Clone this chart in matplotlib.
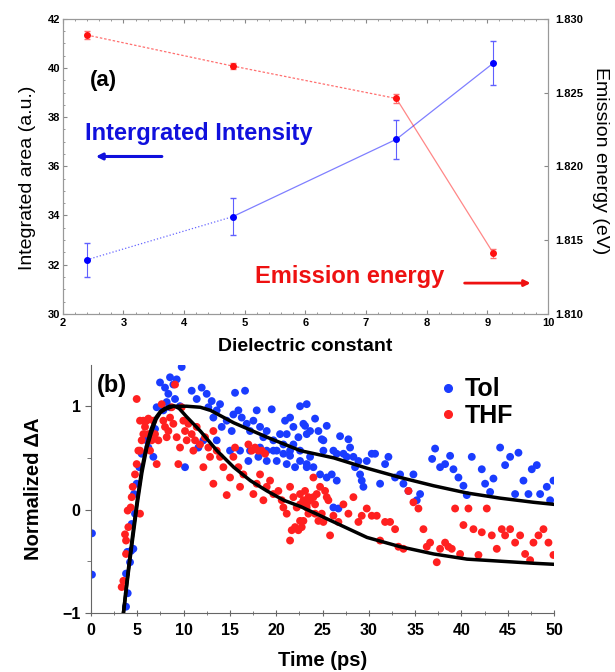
import matplotlib.pyplot as plt
from matplotlib.lines import Line2D

plt.rcParams['font.family'] = ['Liberation Sans', 'DejaVu Sans']

# (a) integrated area and emission energy vs dielectric constant
dielectric = [2.4, 4.8, 7.5, 9.1]
area = [32.2, 33.95, 37.1, 40.2]
area_err = [0.7, 0.75, 0.8, 0.9]
energy = [1.8289, 1.8268, 1.8246, 1.8141]
energy_err = [0.0003, 0.0002, 0.0003, 0.0003]

# (b) normalized transient absorption, toluene
tol_t = [0.1, 0.1, 3.78, 3.96, 3.78, 4.21, 4.32, 3.92, 4.57, 4.39, 4.75, 4.64, 4.93, 5.22, 5.47,
         6.01, 6.19, 6.73, 6.91, 7.09, 7.45, 7.99, 8.35, 8.53, 8.89, 9.25, 9.79, 8.17, 8.53, 7.81,
         9.07, 9.61, 10.15, 10.87, 11.41, 11.95, 12.49, 13.03, 12.67, 13.21, 13.57, 13.93, 14.11,
         14.65, 15.19, 15.37, 15.55, 15.91, 16.27, 16.63, 16.81, 17.17, 17.53, 17.89, 18.25, 18.61,
         18.97, 19.51, 19.69, 20.41, 20.95, 21.49, 21.85, 22.39, 22.93, 23.29, 23.65, 19.69, 20.77,
         21.49, 22.57, 21.85, 21.13, 12.13, 11.59, 13.57, 15.01, 16.09, 16.99, 18.07, 18.97, 20.05,
         21.13, 22.03, 17.17, 18.25, 18.97, 20.05, 20.77, 21.49, 22.57, 23.29, 23.65,
         22.57, 23.11, 23.29, 24.19, 24.55, 24.91, 25.45, 25.09, 26.17, 26.53, 26.89, 27.25, 27.79,
         27.97, 28.33, 28.51, 28.87, 29.05, 29.23, 29.41, 29.77, 30.31, 30.67, 31.21, 31.75, 32.11,
         32.83, 33.37, 33.73, 34.27, 34.81, 35.17, 35.53, 36.83, 37.15, 37.69, 38.23, 38.77, 39.13,
         39.67, 40.21, 40.57, 41.11, 42.19, 42.55, 43.09, 43.45, 44.17, 44.71, 45.25, 45.79, 46.15,
         46.69, 47.23, 47.59, 48.13, 48.49, 49.21, 49.57, 49.93, 23.29, 24.01, 24.73, 25.45, 25.99,
         26.53, 26.17, 26.71, 27.61, 25.09]
tol_a = [-0.23, -0.63, -0.94, -0.81, -0.62, -0.51, -0.40, -0.41, -0.38, -0.14, -0.04, 0.15, 0.25,
         0.41, 0.54, 0.67, 0.60, 0.51, 0.78, 0.99, 1.23, 1.18, 1.12, 1.28, 1.21, 1.26, 1.38, 1.04,
         0.99, 0.96, 1.07, 1.00, 0.41, 1.15, 1.07, 1.18, 1.12, 1.05, 0.99, 0.89, 0.96, 1.02, 0.80,
         0.86, 0.76, 0.92, 1.13, 0.96, 0.89, 1.15, 0.83, 0.76, 0.86, 0.96, 0.80, 0.70, 0.76, 0.97,
         0.67, 0.73, 0.86, 0.89, 0.80, 0.70, 0.83, 1.02, 0.76, 0.57, 0.54, 0.57, 0.47, 0.63, 0.73,
         0.67, 0.60, 0.67, 0.57, 0.57, 0.47, 0.51, 0.57, 0.47, 0.44, 0.41, 0.57, 0.60, 0.47, 0.57,
         0.63, 0.52, 0.57, 0.41, 0.51,
         1.00, 0.81, 0.73, 0.88, 0.76, 0.68, 0.81, 0.67, 0.57, 0.54, 0.71, 0.54, 0.68, 0.60, 0.51,
         0.41, 0.47, 0.34, 0.28, 0.22, 0.47, 0.54, 0.54, 0.25, 0.44, 0.51, 0.31, 0.34, 0.25, 0.18,
         0.34, 0.09, 0.15, 0.49, 0.59, 0.41, 0.44, 0.52, 0.39, 0.31, 0.23, 0.14, 0.51, 0.39, 0.25,
         0.17, 0.30, 0.60, 0.43, 0.51, 0.15, 0.55, 0.28, 0.15, 0.39, 0.43, 0.15, 0.22, 0.09, 0.28,
         0.44, 0.41, 0.34, 0.31, 0.34, 0.28, 0.02, 0.01, 0.51, 0.57]

# (b) normalized transient absorption, THF
thf_t = [3.31, 3.49, 3.78, 3.78, 3.67, 4.03, 3.96, 4.28, 4.39, 4.50, 4.75, 4.93, 4.93, 5.11, 5.29,
         5.47, 5.65, 5.83, 6.01, 6.19, 6.37, 6.55, 6.73, 6.91, 7.09, 7.27, 7.63, 7.81, 7.99, 8.17,
         8.35, 8.53, 8.71, 8.89, 9.07, 9.25, 9.43, 9.61, 9.79, 9.97, 10.15, 10.33, 10.51, 10.87,
         11.05, 11.23, 11.41, 11.77, 12.13, 12.31, 12.67, 12.85, 13.21, 13.57, 13.93, 14.29, 13.21,
         14.65, 15.01, 15.37, 15.55, 15.91, 16.09, 16.45, 16.99, 17.35, 17.71, 18.07, 18.43, 18.79,
         17.53, 17.89, 18.25, 18.61, 18.97, 19.33, 19.69, 20.23, 20.59, 20.77, 21.13, 21.49, 21.85,
         22.21, 22.57, 22.75, 22.93, 23.29, 23.47, 21.49, 22.03, 21.67, 22.39, 5.29, 6.19, 5.65, 5.29,
         22.57, 23.11, 23.47, 23.65, 24.01, 24.19, 24.37, 24.73, 24.91, 25.27, 25.45, 25.63, 24.19,
         24.55, 25.09, 25.81, 26.17, 26.71, 27.25, 27.79, 28.33, 28.87, 29.23, 29.77, 30.31, 30.85,
         31.21, 31.75, 32.29, 32.83, 33.19, 33.73, 34.27, 34.81, 35.35, 35.89, 36.25, 36.61, 37.33,
         37.69, 38.23, 38.59, 38.95, 39.31, 39.85, 40.21, 40.75, 41.29, 41.83, 42.19, 42.73, 43.27,
         43.81, 44.35, 44.71, 45.25, 45.79, 46.33, 46.87, 47.41, 47.77, 48.31, 48.85, 49.39, 49.93,
         24.01, 22.57, 23.29, 22.93]
thf_a = [-0.75, -0.69, -0.43, -0.30, -0.24, -0.17, -0.01, 0.02, 0.12, 0.22, 0.34, 0.44, 1.07, 0.57,
         -0.04, 0.67, 0.86, 0.80, 0.86, 0.73, 0.57, 0.67, 0.86, 0.73, 0.44, 0.67, 1.02, 0.86, 0.80,
         0.70, 0.76, 0.89, 0.99, 0.83, 1.21, 0.70, 0.44, 0.60, 0.99, 0.86, 0.76, 0.67, 0.83, 0.73,
         0.57, 0.67, 0.80, 0.63, 0.41, 0.70, 0.60, 0.51, 0.76, 0.57, 0.51, 0.41, 0.25, 0.14, 0.31,
         0.51, 0.60, 0.41, 0.22, 0.34, 0.63, 0.57, 0.60, 0.57, 0.57, 0.54, 0.15, 0.25, 0.34, 0.09,
         0.22, 0.28, 0.15, 0.18, 0.09, 0.02, -0.04, 0.22, 0.12, 0.02, -0.11, -0.17, 0.09, 0.05, -0.04,
         -0.30, -0.17, -0.20, -0.20, 0.86, 0.88, 0.73, 0.57,
         0.15, 0.18, 0.12, 0.09, 0.12, 0.05, 0.15, 0.22, -0.04, 0.18, 0.12, 0.09, -0.04, -0.11, -0.12,
         -0.25, -0.06, -0.12, 0.05, -0.04, 0.12, -0.12, -0.06, 0.01, -0.06, -0.06, -0.30, -0.12,
         -0.12, -0.19, -0.36, -0.38, 0.18, 0.07, 0.01, -0.19, -0.36, -0.32, -0.51, -0.38, -0.32,
         -0.36, -0.38, 0.01, -0.43, -0.15, 0.01, -0.19, -0.44, -0.22, 0.01, -0.25, -0.38, -0.19,
         -0.25, -0.19, -0.32, -0.25, -0.43, -0.49, -0.32, -0.25, -0.19, -0.32, -0.44, 0.31, 0.05,
         0.02, -0.11]

# fitted kinetics
tol_fit_t = [3.5, 4.0, 4.5, 5.0, 5.5, 6.0, 6.5, 7.0, 7.5, 8.0, 8.9, 10.3, 11.8, 12.9, 15.4, 19.0,
             22.6, 26.2, 29.8, 33.4, 37.0, 40.6, 44.2, 47.8, 50.0]
tol_fit_a = [-1.0, -0.63, -0.28, 0.06, 0.36, 0.59, 0.74, 0.87, 0.94, 0.97, 1.0, 1.0, 0.99, 0.96,
             0.84, 0.70, 0.57, 0.50, 0.40, 0.31, 0.23, 0.16, 0.11, 0.07, 0.05]
thf_fit_t = [3.5, 4.0, 4.5, 5.0, 5.5, 6.0, 6.5, 7.0, 7.5, 8.0, 8.5, 9.0, 9.5, 10.3, 11.8, 13.6,
             15.4, 17.2, 19.0, 20.8, 22.6, 26.2, 29.8, 33.4, 37.0, 40.6, 44.2, 47.8, 50.0]
thf_fit_a = [-1.0, -0.60, -0.24, 0.10, 0.40, 0.62, 0.78, 0.89, 0.95, 0.98, 1.0, 1.0, 0.98, 0.90,
             0.76, 0.57, 0.41, 0.28, 0.18, 0.09, 0.03, -0.12, -0.27, -0.36, -0.43, -0.48, -0.50,
             -0.52, -0.53]

fig = plt.figure(figsize=(6.15, 6.72), dpi=100)

# ---------- panel (a) ----------
ax1 = fig.add_axes([0.102, 0.533, 0.789, 0.439])
ax2 = ax1.twinx()

blue = '#0000ff'
red = '#ff1010'
ax1.plot(dielectric[:2], area[:2], ':', color=blue, lw=0.9, alpha=0.6)
ax1.plot(dielectric[1:], area[1:], '-', color=blue, lw=0.9, alpha=0.5)
ax1.errorbar(dielectric, area, yerr=area_err, fmt='o', color=blue, ms=4,
             elinewidth=0.8, capsize=2, ecolor='#6060ff')
ax2.plot(dielectric[:3], energy[:3], '--', color=red, lw=0.9, alpha=0.6, dashes=(2, 1.5))
ax2.plot(dielectric[2:], energy[2:], '-', color=red, lw=0.9, alpha=0.5)
ax2.errorbar(dielectric, energy, yerr=energy_err, fmt='o', color=red, ms=4,
             elinewidth=0.8, capsize=2, ecolor='#ff7070')

ax1.set_xlim(2, 10)
ax1.set_ylim(30, 42)
ax2.set_ylim(1.810, 1.830)
ax1.set_xticks(range(2, 11))
ax1.set_xticks([2 + 0.2 * i for i in range(41)], minor=True)
ax1.set_yticks(range(30, 43, 2))
ax1.set_yticks([30 + 0.5 * i for i in range(25)], minor=True)
ax2.set_yticks([1.810, 1.815, 1.820, 1.825, 1.830])
ax2.set_yticklabels(['1.810', '1.815', '1.820', '1.825', '1.830'])
for a in (ax1, ax2):
    a.tick_params(which='both', direction='in', labelsize=8, color='#888888', pad=2)
    a.tick_params(which='major', length=3)
    a.tick_params(which='minor', length=1.5)
    for lbl in a.get_xticklabels() + a.get_yticklabels():
        lbl.set_fontweight('bold')
    for s in a.spines.values():
        s.set_color('#999999')
ax1.tick_params(axis='x', top=True, which='both', pad=3)
ax2.tick_params(axis='y', pad=5)

ax1.set_xlabel('Dielectric constant', fontsize=14, fontweight='bold', labelpad=7)
ax1.set_ylabel('Integrated area (a.u.)', fontsize=14)
ax2.set_ylabel('Emission energy (eV)', fontsize=14, rotation=-90)
ax1.yaxis.set_label_coords(-0.055, 0.46)
ax2.yaxis.set_label_coords(1.125, 0.52)

ax1.text(2.45, 39.5, '(a)', fontsize=16, fontweight='bold', va='center')
ax1.text(2.36, 37.35, 'Intergrated Intensity', fontsize=17, fontweight='bold',
         color='#1010dd', va='center')
ax1.annotate('', xy=(2.5, 36.4), xytext=(3.68, 36.4),
             arrowprops=dict(arrowstyle='-|>', color='#1010dd', lw=2.2, mutation_scale=9))
ax1.text(5.17, 31.5, 'Emission energy', fontsize=17, fontweight='bold',
         color='#ee1111', va='center')
ax1.annotate('', xy=(9.76, 31.25), xytext=(8.58, 31.25),
             arrowprops=dict(arrowstyle='-|>', color='#ee1111', lw=2.0, mutation_scale=9))

# ---------- panel (b) ----------
ax3 = fig.add_axes([0.148, 0.088, 0.753, 0.369])
ax3.scatter(tol_t, tol_a, s=32, color='#1a3cff', edgecolors='none', zorder=2, label='Tol')
ax3.scatter(thf_t, thf_a, s=32, color='#ff2020', edgecolors='none', zorder=3, label='THF')
ax3.plot(tol_fit_t, tol_fit_a, color='black', lw=2.5, zorder=4)
ax3.plot(thf_fit_t, thf_fit_a, color='black', lw=2.5, zorder=4)

ax3.set_xlim(0, 50)
ax3.set_ylim(-1, 1.4)
ax3.set_xticks(range(0, 51, 5))
ax3.set_xticks([2.5 + 5 * i for i in range(10)], minor=True)
ax3.set_yticks([-1, 0, 1])
ax3.set_yticks([-0.5, 0.5], minor=True)
ax3.spines['top'].set_visible(False)
ax3.spines['right'].set_visible(False)
for s in ('left', 'bottom'):
    ax3.spines[s].set_color('#666666')
ax3.tick_params(which='both', labelsize=11.5, color='#666666')
ax3.tick_params(axis='x', which='both', direction='inout', pad=5)
ax3.tick_params(which='major', length=4)
ax3.tick_params(which='minor', length=3)
for lbl in ax3.get_xticklabels() + ax3.get_yticklabels():
    lbl.set_fontweight('bold')

ax3.set_xlabel('Time (ps)', fontsize=14.5, fontweight='bold', labelpad=10)
ax3.set_ylabel('Normalized ΔA', fontsize=14.5, fontweight='bold', labelpad=14)
ax3.text(0.6, 1.2, '(b)', fontsize=17, fontweight='bold', va='center')

handles = [Line2D([], [], marker='o', ls='none', color='#1a3cff', ms=5.5),
           Line2D([], [], marker='o', ls='none', color='#ff2020', ms=5.5)]
ax3.legend(handles, ['Tol', 'THF'], loc='upper left', bbox_to_anchor=(0.69, 1.04),
           frameon=False, prop={'size': 18, 'weight': 'bold'},
           handletextpad=0.05, handlelength=1.2, labelspacing=0.1)

fig.savefig('out.png', dpi=100)
